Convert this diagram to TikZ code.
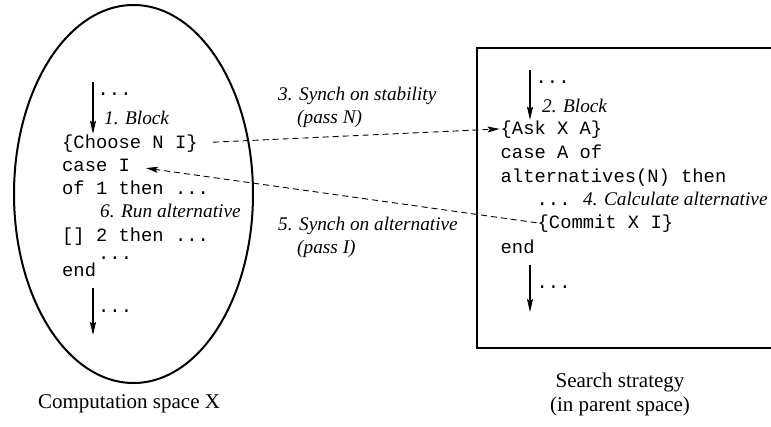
\documentclass[tikz,border=0pt]{standalone}
\usepackage{fontspec}
\setmainfont{Liberation Serif}
\setmonofont{Liberation Mono}
\usetikzlibrary{shapes.geometric,arrows.meta}
\begin{document}
\begin{tikzpicture}[x=1pt,y=-1pt,
  code/.style={anchor=base west, inner sep=0pt, font=\fontsize{18.8}{20}\selectfont\ttfamily, text height=14pt, text depth=3.8pt},
  lbl/.style={anchor=base west, inner sep=0pt, font=\fontsize{19.3}{22}\selectfont\itshape},
  capt/.style={anchor=base, inner sep=0pt, font=\fontsize{21}{24}\selectfont},
  arr/.style={line width=1.1pt, -{Stealth[length=13pt,width=6pt,inset=2pt]}},
  dashline/.style={line width=0.9pt, dash pattern=on 6pt off 4pt, -{Stealth[length=12pt,width=6pt,inset=2.5pt]}},
  frame/.style={draw, line width=2pt, inner sep=0pt}]
\useasboundingbox (0,0) rectangle (771,426);

% containers
\node[frame, ellipse, minimum width=239pt, minimum height=378pt] (space) at (133.5,194) {};
\node[frame, rectangle, minimum width=312pt, minimum height=300pt, anchor=north west] (strategy) at (476,47) {};

% computation space X
\node[code] (ldots1) at (97.5,95) {...};
\node[lbl] (block1) at (104,124) {1. Block};
\node[code] (choose) at (62,148) {\{Choose N I\}};
\node[code] (caseI) at (62,171) {case I};
\node[code] (of1) at (62,194.5) {of 1 then ...};
\node[lbl] (run) at (100,217) {6. Run alternative};
\node[code] (alt2) at (62,241) {[] 2 then ...};
\node[code] (ldots2) at (98,259) {...};
\node[code] (lend) at (62,276) {end};
\node[code] (ldots3) at (98,312) {...};
\node[capt] (captX) at (129,408) {Computation space X};

\coordinate (a1top) at (93,82);
\draw[arr] (a1top) -- (a1top |- choose.north);
\coordinate (a3top) at (93,288);
\coordinate (a3bot) at (93,335);
\draw[arr] (a3top) -- (a3bot);

% search strategy
\node[code] (rdots1) at (535.5,83) {...};
\node[lbl] (block2) at (542,112) {2. Block};
\node[code] (ask) at (500.5,134) {\{Ask X A\}};
\node[code] (caseA) at (500.5,158) {case A of};
\node[code] (alts) at (500.5,182) {alternatives(N) then};
\node[code] (rdots2) at (536.5,205) {...};
\node[lbl] (calc) at (583,205) {4. Calculate alternative};
\node[code] (commit) at (537.5,228) {\{Commit X I\}};
\node[code] (rend) at (500.5,253) {end};
\node[code] (rdots3) at (536.5,288) {...};
\node[capt] (captS1) at (620,387) {Search strategy};
\node[capt] (captS2) at (620,411) {(in parent space)};

\coordinate (a2top) at (530,70);
\draw[arr] (a2top) -- (a2top |- ask.north);
\coordinate (a4top) at (530,265);
\coordinate (a4bot) at (530,312);
\draw[arr] (a4top) -- (a4bot);

% middle labels
\node[lbl] (synch3) at (278,100) {3. Synch on stability};
\node[lbl] (passN) at (297,123) {(pass N)};
\node[lbl] (synch5) at (278,230) {5. Synch on alternative};
\node[lbl] (passI) at (297,253) {(pass I)};

% synchronisation connectors
\draw[dashline, shorten <=15pt, shorten >=1pt] (choose.east) -- (ask.west);
\draw[dashline, shorten <=1pt, shorten >=16pt] (commit.west) -- (caseI.east);
\end{tikzpicture}
\end{document}
